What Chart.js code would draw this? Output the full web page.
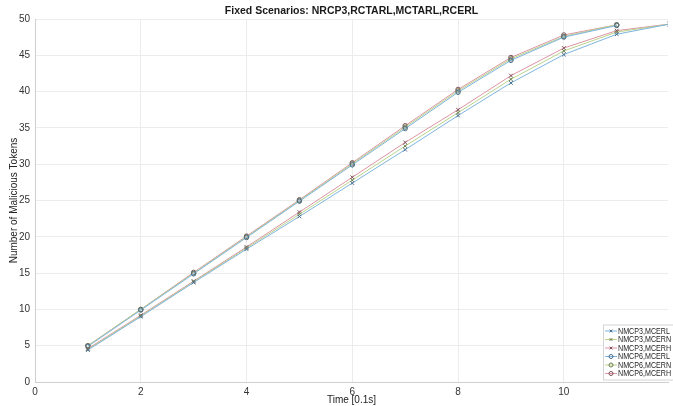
<!DOCTYPE html>
<html>
<head>
<meta charset="utf-8">
<script src="https://cdn.jsdelivr.net/npm/chart.js@4.4.1/dist/chart.umd.min.js"></script>
<style>
  html, body { margin: 0; padding: 0; background: #fff; }
  #wrap { width: 673px; height: 406px; position: relative; }
</style>
</head>
<body>
<div id="wrap"><canvas id="chart"></canvas></div>
<script>
// x values (Time [0.1s])
const timeSteps = [1, 2, 3, 4, 5, 6, 7, 8, 9, 10, 11, 12];

// NMCP3 series run to t=12, NMCP6 series stop at t=11
const nmcp3Mcerl = [4.4, 9.0, 13.7, 18.3, 22.8, 27.4, 32.0, 36.7, 41.2, 45.1, 47.9, 49.3];
const nmcp3Mcern = [4.5, 9.1, 13.8, 18.45, 23.1, 27.8, 32.5, 37.1, 41.7, 45.6, 48.2, 49.3];
const nmcp3Mcerh = [4.6, 9.2, 13.9, 18.6, 23.4, 28.2, 33.0, 37.5, 42.2, 46.0, 48.4, 49.3];
const nmcp6Mcerl = [4.9, 9.9, 14.9, 19.9, 24.9, 29.9, 34.9, 39.9, 44.3, 47.5, 49.1];
const nmcp6Mcern = [5.0, 10.0, 15.0, 20.0, 25.0, 30.05, 35.1, 40.1, 44.5, 47.6, 49.2];
const nmcp6Mcerh = [5.0, 10.0, 15.1, 20.1, 25.1, 30.2, 35.3, 40.3, 44.7, 47.8, 49.2];

const seriesLabels = ['NMCP3,MCERL', 'NMCP3,MCERN', 'NMCP3,MCERH', 'NMCP6,MCERL', 'NMCP6,MCERN', 'NMCP6,MCERH'];
const yTicks = [0, 5, 10, 15, 20, 25, 30, 35, 40, 45, 50];
const xTicks = [0, 2, 4, 6, 8, 10];

const blue = '#7db4df', green = '#b9d489', pink = '#dd94a3';
const blueDark = '#4a6f8c', greenDark = '#6c7c50', pinkDark = '#7d5058';

function toPoints(vals) {
  return vals.map((v, i) => ({ x: timeSteps[i], y: v }));
}

function makeSet(label, vals, color, markColor, style) {
  return {
    label: label,
    data: toPoints(vals),
    borderColor: color,
    backgroundColor: 'transparent',
    borderWidth: 1,
    pointStyle: style,
    pointRadius: style === 'circle' ? 2.2 : 2.6,
    pointBorderColor: markColor,
    pointBackgroundColor: 'transparent',
    pointBorderWidth: 1,
    tension: 0
  };
}

const datasets = [
  makeSet(seriesLabels[0], nmcp3Mcerl, blue, blueDark, 'crossRot'),
  makeSet(seriesLabels[1], nmcp3Mcern, green, greenDark, 'crossRot'),
  makeSet(seriesLabels[2], nmcp3Mcerh, pink, pinkDark, 'crossRot'),
  makeSet(seriesLabels[3], nmcp6Mcerl, blue, blueDark, 'circle'),
  makeSet(seriesLabels[4], nmcp6Mcern, green, greenDark, 'circle'),
  makeSet(seriesLabels[5], nmcp6Mcerh, pink, pinkDark, 'circle')
];

// legend drawn inside the plot, bottom right
const insideLegend = {
  id: 'insideLegend',
  afterDraw(chart) {
    const c = chart.ctx;
    const x0 = 603, y0 = 324.5, w = 80, h = 55;
    c.save();
    c.fillStyle = '#fff';
    c.fillRect(x0, y0, w, h);
    c.strokeStyle = '#d4d4d4';
    c.lineWidth = 1;
    c.strokeRect(x0 + 0.5, y0 + 0.5, w, h);
    c.font = '8.3px "Liberation Sans", Arial, sans-serif';
    c.textBaseline = 'middle';
    chart.data.datasets.forEach((ds, i) => {
      const y = y0 + 6.5 + i * 8.5;
      c.strokeStyle = ds.borderColor;
      c.beginPath();
      c.moveTo(605, y);
      c.lineTo(617, y);
      c.stroke();
      c.fillStyle = 'rgba(0,0,0,0)';
      c.strokeStyle = ds.pointBorderColor;
      Chart.helpers.drawPoint(c, {
        pointStyle: ds.pointStyle,
        radius: 2,
        rotation: 0,
        borderWidth: 1
      }, 611, y);
      c.fillStyle = '#262626';
      c.save();
      c.translate(618, y + 0.5);
      c.scale(0.86, 1);
      c.fillText(ds.label, 0, 0);
      c.restore();
    });
    c.restore();
  }
};

new Chart(document.getElementById('chart'), {
  type: 'line',
  data: { datasets: datasets },
  plugins: [insideLegend],
  options: {
    responsive: true,
    maintainAspectRatio: false,
    animation: false,
    layout: { padding: 0 },
    plugins: {
      legend: { display: false },
      tooltip: { enabled: false },
      title: {
        display: true,
        text: 'Fixed Scenarios: NRCP3,RCTARL,MCTARL,RCERL',
        fullSize: false,
        color: '#1a1a1a',
        font: { family: '"Liberation Sans", Arial, sans-serif', size: 10.5, weight: 'bold' },
        padding: { top: 5, bottom: 1.4 }
      }
    },
    scales: {
      x: {
        type: 'linear',
        min: 0,
        max: 11.97,
        afterFit: s => { s.height = 24; },
        afterBuildTicks: s => { s.ticks = xTicks.map(v => ({ value: v })); },
        grid: { color: '#ececec', tickLength: 0, drawTicks: false },
        border: { color: '#cfcfcf' },
        ticks: {
          color: '#333',
          padding: 4,
          maxRotation: 0,
          font: { family: '"Liberation Sans", Arial, sans-serif', size: 10 }
        },
        title: {
          display: true,
          text: 'Time [0.1s]',
          color: '#222',
          padding: { top: 0, bottom: 0 },
          font: { family: '"Liberation Sans", Arial, sans-serif', size: 10 }
        }
      },
      y: {
        min: 0,
        max: 50,
        afterFit: s => { s.width = 35; },
        afterBuildTicks: s => { s.ticks = yTicks.map(v => ({ value: v })); },
        grid: { color: '#ececec', tickLength: 0, drawTicks: false },
        border: { color: '#cfcfcf' },
        ticks: {
          color: '#333',
          padding: 5,
          font: { family: '"Liberation Sans", Arial, sans-serif', size: 10 }
        },
        title: {
          display: true,
          text: 'Number of Malicious Tokens',
          color: '#222',
          padding: { top: 8, bottom: 0 },
          font: { family: '"Liberation Sans", Arial, sans-serif', size: 10 }
        }
      }
    }
  }
});
</script>
</body>
</html>
